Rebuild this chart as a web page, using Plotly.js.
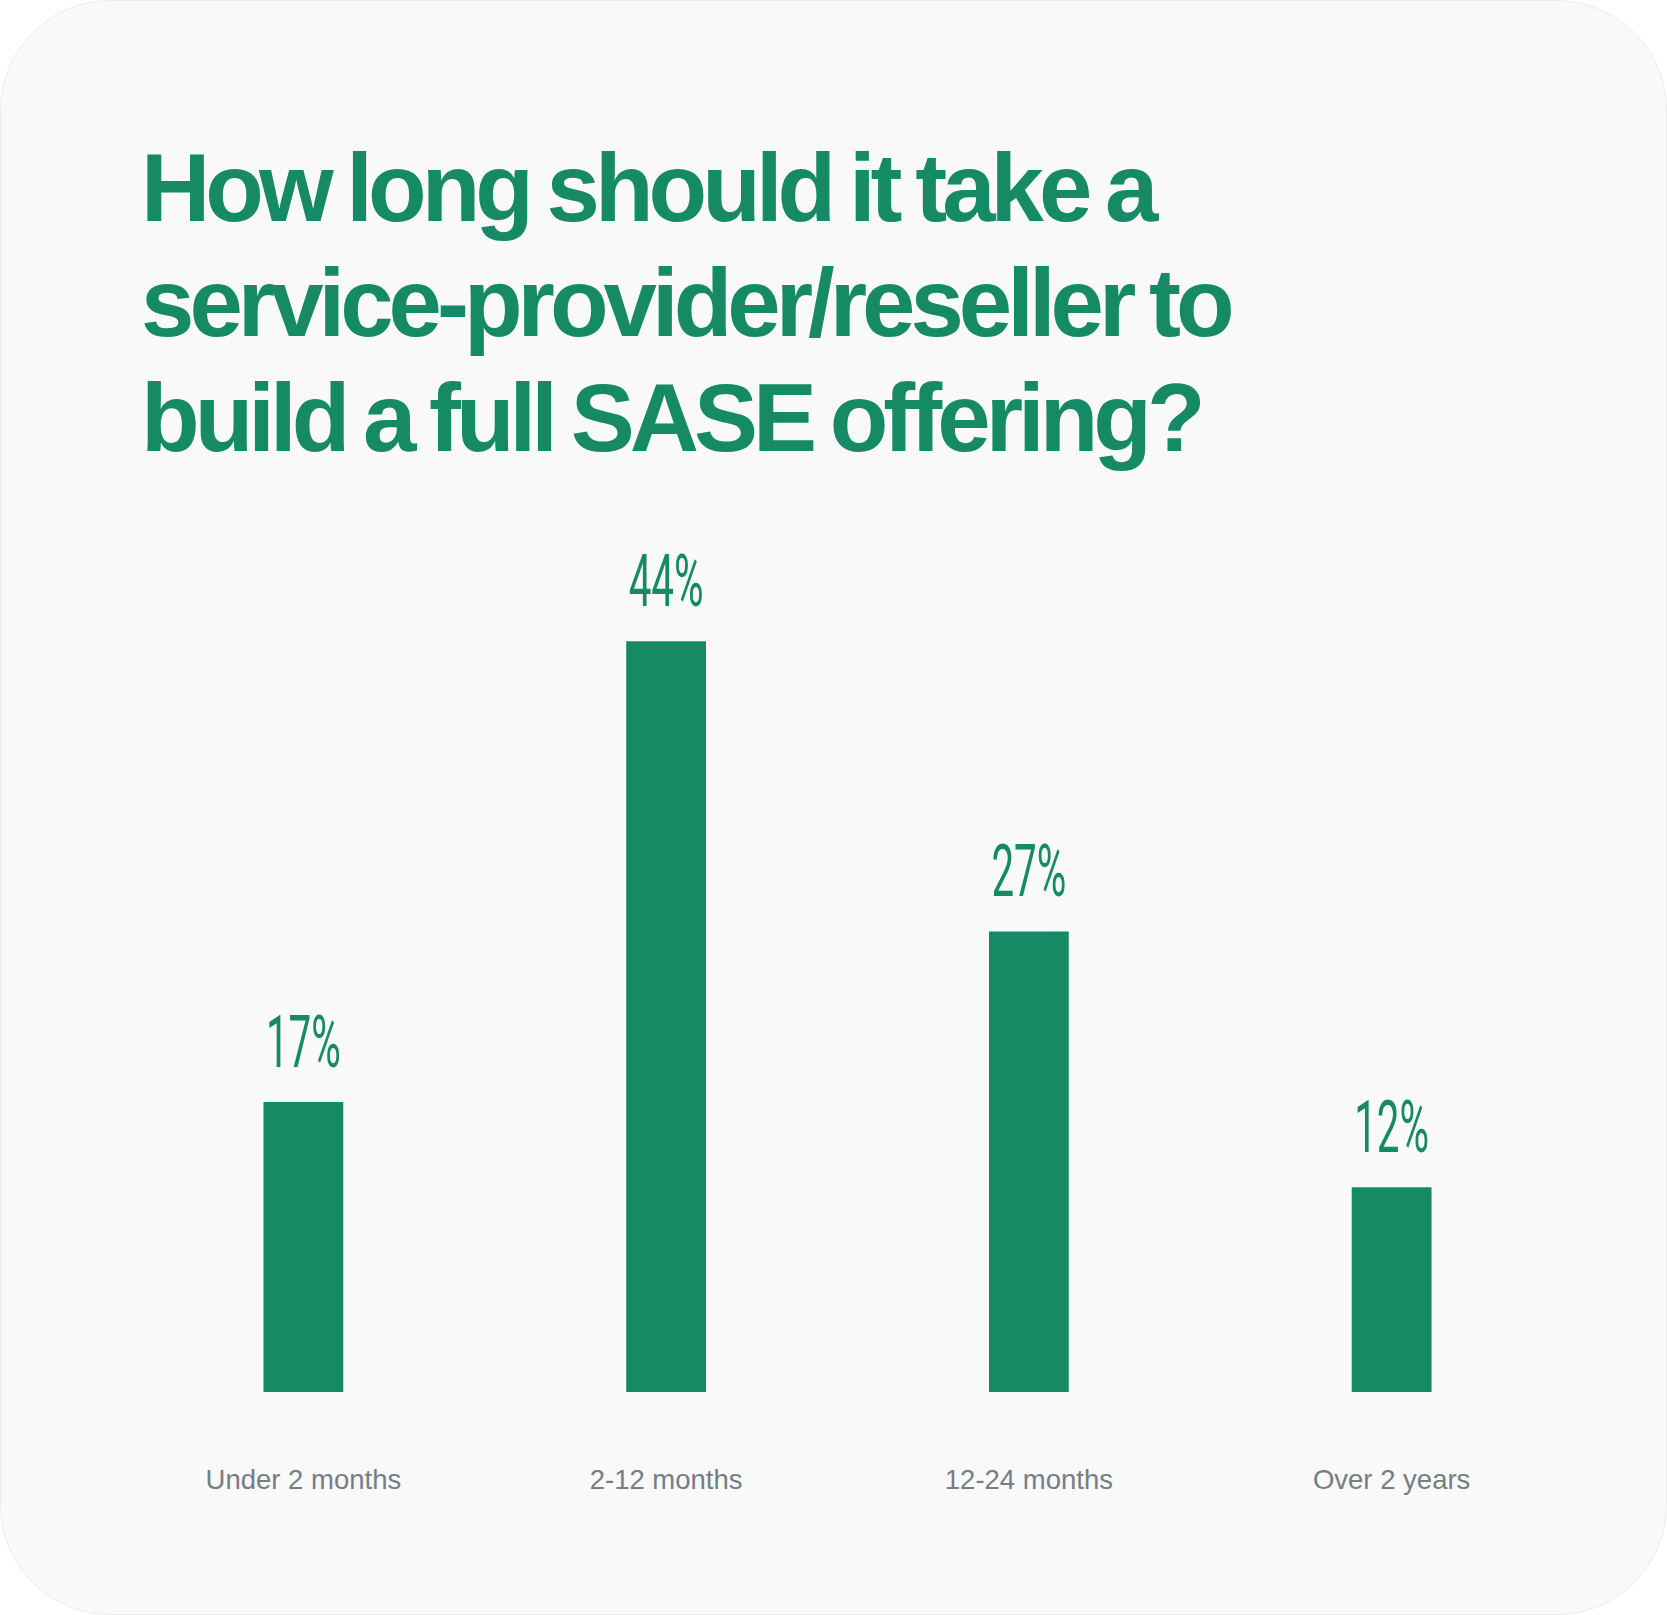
<!DOCTYPE html>
<html>
<head>
<meta charset="utf-8">
<script src="https://cdn.plot.ly/plotly-3.0.1.min.js"></script>
<style>
html, body { margin: 0; padding: 0; background: #ffffff; }
#card { position: absolute; left: 0; top: 0; width: 1665px; height: 1613px; border: 1px solid #ececec; border-radius: 110px; background: #f9f9f9; }
#chart { position: absolute; left: 0; top: 0; width: 1667px; height: 1615px; }
.gtitle { letter-spacing: -5px; word-spacing: -4px; }
</style>
</head>
<body>
<div id="card"></div>
<div id="chart"></div>
<script>
// ---- data ----
const categories = ['Under 2 months', '2-12 months', '12-24 months', 'Over 2 years'];
const shares = [17, 44, 27, 12];
const titleText = 'How long should it take a<br>service-provider/reseller to<br>build a full SASE offering?';

const green = '#168a64';

const bars = {
  type: 'bar',
  x: categories,
  y: shares,
  marker: { color: green, line: { width: 0 } },
  hoverinfo: 'skip'
};

const labels = {
  type: 'scatter',
  mode: 'markers+text',
  x: categories,
  y: shares,
  texttemplate: '%{y}%',
  textposition: 'top center',
  marker: { size: 26, color: 'rgba(0,0,0,0)' },
  textfont: { family: 'Roboto, "Liberation Sans Narrow", sans-serif', size: 72, color: green },
  hoverinfo: 'skip'
};

const layout = {
  width: 1667,
  height: 1615,
  margin: { l: 122, r: 94, t: 539, b: 223 },
  paper_bgcolor: 'rgba(0,0,0,0)',
  plot_bgcolor: 'rgba(0,0,0,0)',
  showlegend: false,
  bargap: 0.78,
  title: {
    text: titleText,
    x: 141 / 1667,
    xref: 'container',
    xanchor: 'left',
    y: 1 - 221 / 1615,
    yref: 'container',
    yanchor: 'top',
    font: { family: '"Liberation Sans", Arial, sans-serif', size: 96, weight: 700, color: green }
  },
  xaxis: {
    type: 'category',
    range: [-0.5, 3.5],
    showgrid: false,
    zeroline: false,
    showline: false,
    ticks: 'outside',
    ticklen: 63,
    tickcolor: 'rgba(0,0,0,0)',
    tickfont: { family: '"Liberation Sans", Arial, sans-serif', size: 27.5, color: '#767d84' },
    fixedrange: true
  },
  yaxis: {
    range: [0, 50],
    visible: false,
    showgrid: false,
    zeroline: false,
    fixedrange: true
  }
};

Plotly.newPlot('chart', [bars, labels], layout, { displayModeBar: false, staticPlot: true }).then(function () {
  document.querySelectorAll('.gtitle tspan.line').forEach(function (t) {
    const dy = t.getAttribute('dy');
    if (dy && parseFloat(dy) > 0) t.setAttribute('dy', (parseFloat(dy) * 1.2 / 1.3) + 'em');
  });
  document.querySelectorAll('.scatterlayer .textpoint text').forEach(function (t) {
    const x = parseFloat(t.getAttribute('x'));
    t.setAttribute('transform', 'translate(' + x + ',0) scale(0.56,1) translate(' + (-x) + ',0)');
  });
});
</script>
</body>
</html>
